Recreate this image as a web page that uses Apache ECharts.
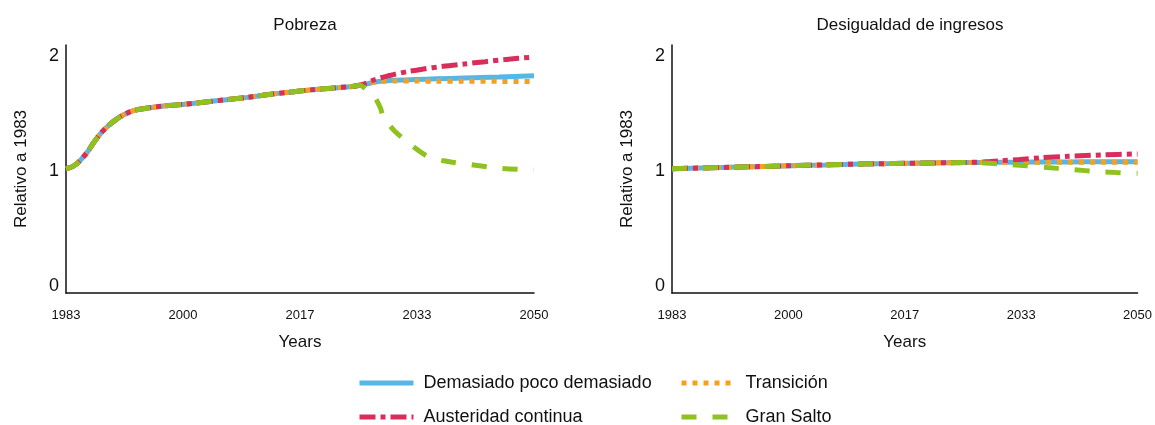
<!DOCTYPE html>
<html>
<head>
<meta charset="utf-8">
<script src="https://cdn.jsdelivr.net/npm/echarts@6/dist/echarts.min.js"></script>
<style>html,body{margin:0;padding:0;background:#fff}#c{width:1155px;height:425px}</style>
</head>
<body>
<div id="c"></div>
<script>
// ---- Data ----
const chartTitles = ['Pobreza', 'Desigualdad de ingresos'];
const seriesNames = ['Demasiado poco demasiado', 'Transición', 'Austeridad continua', 'Gran Salto'];
const xTickValues = [1983, 1999.75, 2016.5, 2033.25, 2050];
const xTickLabels = ['1983', '2000', '2017', '2033', '2050'];
const yTickValues = [0, 1, 2];

// Pobreza (left): common history
const povCommonYears = [1983,1984,1985,1986,1987,1988,1989,1990,1991,1992,1993,1995,1997,2000,2003,2006,2009,2012,2015,2018,2021,2024,2025];
const povCommonValues = [1.02,1.04,1.09,1.16,1.25,1.33,1.39,1.44,1.48,1.51,1.53,1.55,1.565,1.58,1.60,1.62,1.64,1.665,1.685,1.705,1.72,1.735,1.745];
// Pobreza scenarios
const povBlueYears = [2026,2027,2028,2029,2030,2033,2036,2040,2045,2050];
const povBlueValues = [1.755,1.77,1.78,1.785,1.788,1.795,1.801,1.808,1.817,1.827];
const povOrangeYears = [2026,2027,2028,2029,2030,2033,2036,2040,2045,2050];
const povOrangeValues = [1.755,1.77,1.778,1.782,1.783,1.782,1.78,1.78,1.779,1.778];
const povRedYears = [2026,2027,2028,2029,2030,2032,2034,2037,2040,2043,2046,2050];
const povRedValues = [1.765,1.79,1.81,1.825,1.84,1.865,1.885,1.91,1.93,1.95,1.97,1.99];
const povGreenYears = [2026,2027,2028,2028.5,2029,2030,2032,2035,2037.5,2041,2045,2050];
const povGreenValues = [1.71,1.66,1.55,1.45,1.42,1.35,1.245,1.12,1.085,1.055,1.025,1.01];

// Desigualdad de ingresos (right): common history
const ineqCommonYears = [1983,1990,1995,2000,2005,2010,2015,2020,2025];
const ineqCommonValues = [1.02,1.03,1.038,1.046,1.053,1.06,1.065,1.07,1.073];
const ineqBlueYears = [2030,2035,2040,2045,2050];
const ineqBlueValues = [1.076,1.078,1.079,1.08,1.081];
const ineqOrangeYears = [2030,2035,2040,2045,2050];
const ineqOrangeValues = [1.074,1.075,1.076,1.076,1.076];
const ineqRedYears = [2028,2030,2033,2036,2040,2045,2050];
const ineqRedValues = [1.08,1.088,1.10,1.115,1.128,1.14,1.148];
const ineqGreenYears = [2028,2031,2034,2037,2040,2045,2050];
const ineqGreenValues = [1.07,1.058,1.045,1.03,1.016,0.992,0.98];

// ---- Build ----
function zip(ys, vs) { return ys.map((y, i) => [y, vs[i]]); }
function join(cy, cv, ty, tv) { return zip(cy, cv).concat(zip(ty, tv)); }

const FONT = 'Liberation Sans';
const colors = ['#56b7e7', '#f7a01d', '#d92d5a', '#8fc21f'];
const lineTypes = ['solid', [5, 6], [16, 5, 5, 5], [15, 16]];

const leftData = [
  join(povCommonYears, povCommonValues, povBlueYears, povBlueValues),
  join(povCommonYears, povCommonValues, povOrangeYears, povOrangeValues),
  join(povCommonYears, povCommonValues, povRedYears, povRedValues),
  join(povCommonYears, povCommonValues, povGreenYears, povGreenValues)
];
const rightData = [
  join(ineqCommonYears, ineqCommonValues, ineqBlueYears, ineqBlueValues),
  join(ineqCommonYears, ineqCommonValues, ineqOrangeYears, ineqOrangeValues),
  join(ineqCommonYears, ineqCommonValues, ineqRedYears, ineqRedValues),
  join(ineqCommonYears, ineqCommonValues, ineqGreenYears, ineqGreenValues)
];

function xAxis(gi) {
  return {
    type: 'value', gridIndex: gi, min: 1983, max: 2050,
    name: 'Years', nameLocation: 'middle', nameGap: 41,
    nameTextStyle: { fontFamily: FONT, fontSize: 17, color: '#111' },
    axisLine: { onZero: false, lineStyle: { color: '#111', width: 1.5 } },
    axisTick: { show: false }, splitLine: { show: false },
    axisLabel: {
      customValues: xTickValues, margin: 16,
      fontFamily: FONT, fontSize: 13, color: '#111',
      formatter: v => xTickLabels[xTickValues.indexOf(v)]
    }
  };
}
function yAxis(gi) {
  return {
    type: 'value', gridIndex: gi, min: -0.06, max: 2.095,
    name: 'Relativo a 1983', nameLocation: 'middle', nameGap: 36, nameRotate: 90,
    nameTextStyle: { fontFamily: FONT, fontSize: 17, color: '#111' },
    axisLine: { show: true, lineStyle: { color: '#111', width: 1.5 } },
    axisTick: { show: false }, splitLine: { show: false },
    axisLabel: { customValues: yTickValues, margin: 7, fontFamily: FONT, fontSize: 18, color: '#111' }
  };
}

const series = [];
[leftData, rightData].forEach((set, gi) => {
  set.forEach((d, si) => {
    series.push({
      type: 'line', name: seriesNames[si], xAxisIndex: gi, yAxisIndex: gi,
      data: d, smooth: 0.3, showSymbol: false, symbol: 'none',
      lineStyle: { color: colors[si], width: 5, type: lineTypes[si], cap: 'butt' },
      itemStyle: { color: colors[si] },
      z: 2 + si
    });
  });
});

const legendPos = [
  { left: 357, top: 374 }, { left: 679, top: 374 },
  { left: 357, top: 408 }, { left: 679, top: 408 }
];
const legends = seriesNames.map((name, i) => ({
  data: [name], left: legendPos[i].left, top: legendPos[i].top,
  padding: 0,
  itemWidth: 54, itemHeight: 14, itemGap: 10,
  itemStyle: { opacity: 0 },
  lineStyle: { width: 5 },
  textStyle: { fontFamily: FONT, fontSize: 18, color: '#111', padding: [0, 0, 0, 5] }
}));

const chart = echarts.init(document.getElementById('c'), null, { renderer: 'canvas' });
chart.setOption({
  animation: false,
  textStyle: { fontFamily: FONT },
  title: [
    { text: chartTitles[0], left: 300, top: 12, textAlign: 'center', textStyle: { fontFamily: FONT, fontSize: 17, fontWeight: 'normal', color: '#111' } },
    { text: chartTitles[1], left: 905, top: 12, textAlign: 'center', textStyle: { fontFamily: FONT, fontSize: 17, fontWeight: 'normal', color: '#111' } }
  ],
  legend: legends,
  grid: [
    { left: 66, right: 621, top: 45, bottom: 132 },
    { left: 672, right: 16, top: 45, bottom: 132 }
  ],
  xAxis: [xAxis(0), xAxis(1)],
  yAxis: [yAxis(0), yAxis(1)],
  series: series
});
</script>
</body>
</html>
